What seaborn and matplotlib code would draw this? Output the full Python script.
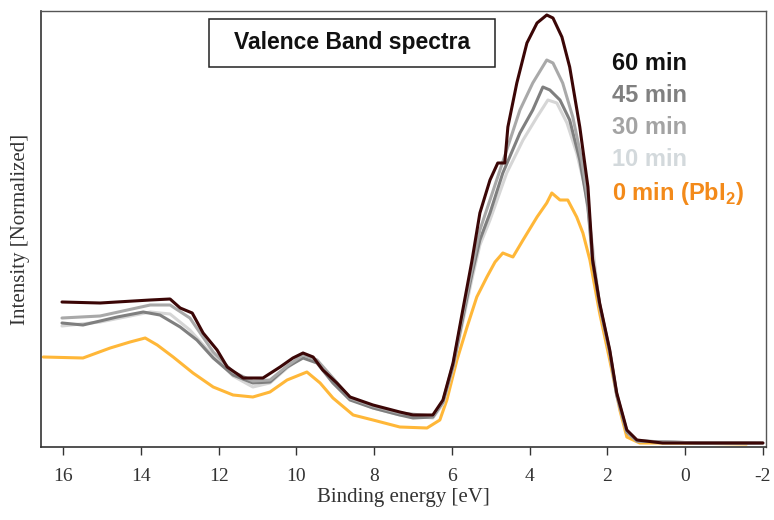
import matplotlib
matplotlib.use("Agg")
import matplotlib.pyplot as plt
from matplotlib.patches import Rectangle
import seaborn as sns

# ---- data (binding energy [eV], normalized intensity [a.u.]) ----
e_60 = [16.03, 15.05, 13.76, 13.25, 12.99, 12.68, 12.40, 12.04, 11.78, 11.37, 10.86, 10.42, 10.09, 9.83, 9.57,
        9.32, 8.96, 8.62, 8.03, 7.34, 7.00, 6.49, 6.23, 5.97, 5.72, 5.49, 5.28, 5.02, 4.82, 4.64, 4.56, 4.33,
        4.07, 3.81, 3.56, 3.40, 3.17, 2.97, 2.71, 2.50, 2.38, 2.20, 1.94, 1.76, 1.50, 1.24, 0.58, -0.71, -2.00]
i_60 = [145, 144, 147, 148, 139, 134, 114, 97, 80, 69, 69, 80, 89, 94, 90,
        77, 64, 50, 42, 35, 32, 32, 47, 84, 137, 185, 234, 267, 284, 284, 320, 364,
        404, 424, 432, 429, 410, 380, 320, 260, 187, 144, 97, 54, 17, 7, 4, 4, 4]

e_45 = [16.03, 15.49, 14.61, 13.94, 13.51, 12.99, 12.56, 12.14, 11.63, 11.12, 10.68, 10.24, 9.83, 9.47, 9.06,
        8.62, 8.03, 7.34, 7.00, 6.49, 6.23, 5.97, 5.72, 5.49, 5.28, 5.02, 4.69, 4.25, 3.92, 3.66, 3.48, 3.22,
        2.97, 2.71, 2.50, 2.38, 2.20, 1.94, 1.76, 1.50, 1.24, -0.38, -2.00]
i_45 = [124, 122, 130, 135, 132, 120, 107, 89, 72, 64, 65, 80, 89, 84, 64,
        47, 39, 32, 29, 30, 45, 81, 129, 172, 207, 234, 274, 314, 337, 360, 357, 347,
        327, 287, 240, 185, 142, 95, 52, 15, 6, 4, 4]

e_30 = [16.03, 15.05, 13.76, 13.25, 12.74, 12.14, 11.63, 11.12, 10.68, 10.24, 9.83, 9.47, 9.06, 8.62, 8.03,
        7.34, 6.49, 6.23, 5.97, 5.72, 5.49, 5.28, 5.02, 4.59, 4.25, 3.92, 3.56, 3.40, 3.15, 2.89, 2.66, 2.50,
        2.38, 2.20, 1.94, 1.76, 1.50, 1.24, -0.38, -1.92]
i_30 = [129, 131, 142, 142, 129, 95, 75, 66, 67, 81, 92, 87, 69, 49, 41,
        34, 31, 46, 83, 133, 177, 217, 247, 297, 337, 364, 387, 384, 364, 330, 287, 247,
        189, 143, 96, 53, 16, 6, 4, 4]

e_10 = [16.03, 15.05, 13.76, 13.25, 12.74, 12.14, 11.63, 11.12, 10.68, 10.24, 9.83, 9.47, 9.06, 8.62, 8.03,
        7.34, 6.49, 6.23, 5.97, 5.72, 5.49, 5.28, 5.02, 4.59, 4.17, 3.81, 3.53, 3.30, 3.04, 2.79, 2.58, 2.40,
        2.20, 1.94, 1.76, 1.50, 1.24, -0.38, -1.79]
i_10 = [121, 125, 135, 133, 117, 91, 71, 60, 64, 79, 91, 86, 67, 48, 39,
        32, 29, 43, 79, 125, 167, 202, 227, 274, 307, 330, 347, 344, 324, 294, 260, 207,
        141, 94, 51, 15, 6, 4, 4]

e_0 = [16.51, 15.49, 14.79, 14.28, 13.89, 13.58, 13.17, 12.66, 12.14, 11.63, 11.12, 10.68, 10.24, 9.73, 9.39,
       9.06, 8.54, 8.03, 7.34, 6.64, 6.31, 6.13, 5.87, 5.61, 5.36, 5.10, 4.89, 4.69, 4.43, 4.17, 3.81, 3.56,
       3.43, 3.22, 3.02, 2.79, 2.63, 2.45, 2.20, 1.94, 1.68, 1.50, 1.17, 0.14, -1.58]
i_0 = [90, 89, 99, 105, 109, 102, 90, 74, 60, 52, 50, 55, 67, 75, 64,
       49, 32, 27, 20, 19, 27, 47, 87, 120, 150, 170, 185, 194, 190, 207, 230, 244,
       254, 247, 247, 230, 214, 187, 134, 87, 37, 10, 4, 4, 3]

labels = ["60 min", "45 min", "30 min", "10 min", "0 min (PbI$_{\\mathbf{2}}$)"]
x_ticks = [16, 14, 12, 10, 8, 6, 4, 2, 0, -2]

# ---- style ----
sns.set_theme(style="white")
plt.rcParams["mathtext.fontset"] = "custom"
plt.rcParams["mathtext.rm"] = "Liberation Sans"
plt.rcParams["mathtext.bf"] = "Liberation Sans:bold"

fig = plt.figure(figsize=(7.74, 5.20), dpi=100)
ax = fig.add_axes([41 / 774, 1 - 447 / 520, (766 - 41) / 774, (447 - 11) / 520])

line_colors = ["#3b0606", "#7f7f7f", "#a9a9a9", "#d6d6d6", "#ffb738"]
text_colors = ["#111111", "#808080", "#a3a3a3", "#d3d9dc", "#f38a1a"]

series = [(e_0, i_0, line_colors[4]), (e_10, i_10, line_colors[3]), (e_45, i_45, line_colors[1]),
          (e_30, i_30, line_colors[2]), (e_60, i_60, line_colors[0])]
for ex, iy, col in series:
    sns.lineplot(x=ex, y=iy, color=col, linewidth=2.2, ax=ax, sort=False, estimator=None)

ax.set_xlim(16.57, -2.08)
ax.set_ylim(0, 436)
ax.set_yticks([])
ax.set_xticks(x_ticks)
ax.set_xticklabels([str(t) for t in x_ticks], fontfamily="Liberation Serif", fontsize=14, color="#333333")
ax.tick_params(axis="x", direction="out", length=6, width=1, color="#333333", pad=9, bottom=True)

for side in ["left", "bottom"]:
    ax.spines[side].set_color("#333333")
    ax.spines[side].set_linewidth(1.2)
for side in ["top", "right"]:
    ax.spines[side].set_color("#555555")
    ax.spines[side].set_linewidth(1.0)

ax.set_xlabel("Binding energy [eV]", fontfamily="Liberation Serif", fontsize=15, color="#333333", labelpad=2)
ax.set_ylabel("Intensity [Normalized]", fontfamily="Liberation Serif", fontsize=15, color="#333333", labelpad=8)

# title box
bx0, bx1 = (209 - 41) / 725, (495 - 41) / 725
by0, by1 = (447 - 67) / 436, (447 - 19) / 436
ax.add_patch(Rectangle((bx0, by0), bx1 - bx0, by1 - by0, transform=ax.transAxes,
                       facecolor="white", edgecolor="#222222", linewidth=1.1, zorder=5))
ax.text((bx0 + bx1) / 2, (by0 + by1) / 2, "Valence Band spectra", transform=ax.transAxes,
        ha="center", va="center", fontfamily="Liberation Sans", fontweight="bold", fontsize=16.5,
        color="#111111", zorder=6)

# legend texts
ys = [63, 95, 128, 160, 193]
for lab, col, yp in zip(labels, text_colors, ys):
    ax.text((612 - 41) / 725, (447 - yp) / 436, lab, transform=ax.transAxes, ha="left", va="center",
            fontfamily="Liberation Sans", fontweight="bold", fontsize=17, color=col)

fig.savefig("out.png", dpi=100)
